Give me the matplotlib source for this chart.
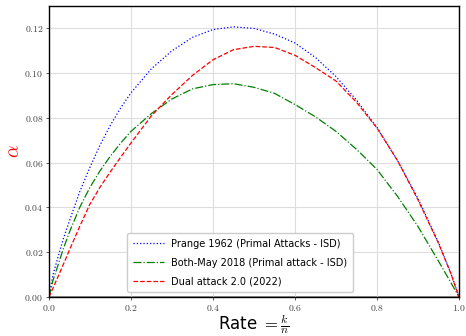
import matplotlib
matplotlib.use("Agg")
import matplotlib.pyplot as plt
from matplotlib.ticker import FuncFormatter

plt.rcParams['mathtext.fontset'] = 'cm'

rate = [0, 0.01, 0.02, 0.035, 0.05, 0.075, 0.1, 0.125, 0.15, 0.175, 0.2, 0.25,
        0.3, 0.35, 0.4, 0.45, 0.5, 0.55, 0.6, 0.65, 0.7, 0.75, 0.8, 0.85,
        0.9, 0.95, 0.98, 1.0]
prange = [0, 0.010, 0.0165, 0.026, 0.034, 0.0470, 0.0580, 0.0680, 0.0768,
          0.0845, 0.0912, 0.1020, 0.1100, 0.1160, 0.1195, 0.1207, 0.1200,
          0.1175, 0.1135, 0.1070, 0.0985, 0.0880, 0.0757, 0.0610, 0.0440,
          0.0243, 0.0108, 0]
bothmay = [0, 0.0075, 0.0130, 0.0215, 0.0290, 0.0400, 0.0490, 0.0565,
           0.0630, 0.0688, 0.0740, 0.0820, 0.0885, 0.0930, 0.0949, 0.0953,
           0.0937, 0.0910, 0.0860, 0.0805, 0.0740, 0.0660, 0.0570, 0.0450,
           0.0315, 0.0160, 0.0065, 0]
dual = [0, 0.004, 0.0082, 0.0145, 0.0210, 0.0315, 0.0415, 0.0492, 0.0560,
        0.0625, 0.0688, 0.0810, 0.0905, 0.0990, 0.1060, 0.1105, 0.1120,
        0.1115, 0.1080, 0.1025, 0.0965, 0.0870, 0.0755, 0.0610, 0.0434,
        0.0240, 0.0105, 0]

labels = ["Prange 1962 (Primal Attacks - ISD)",
          "Both-May 2018 (Primal attack - ISD)",
          "Dual attack 2.0 (2022)"]

fig = plt.figure(figsize=(4.66, 3.36), dpi=100)
ax = fig.add_axes([0.105, 0.116, 0.88, 0.866])

ax.plot(rate, prange, ':', color='blue', lw=0.9, label=labels[0])
ax.plot(rate, bothmay, '-.', color='green', lw=0.9, label=labels[1])
ax.plot(rate, dual, '--', color='red', lw=0.9, label=labels[2])

ax.set_xlim(0, 1)
ax.set_ylim(0, 0.13)
ax.set_xticks([0, 0.2, 0.4, 0.6, 0.8, 1.0])
ax.set_yticks([0, 0.02, 0.04, 0.06, 0.08, 0.10, 0.12])
ax.xaxis.set_major_formatter(FuncFormatter(lambda v, p: f'${v:.1f}$'))
ax.yaxis.set_major_formatter(FuncFormatter(lambda v, p: f'${v:.2f}$'))
ax.tick_params(labelsize=7, length=2, width=0.6, pad=2, colors='#444444')
ax.grid(color='#dddddd', lw=0.8)
ax.axhline(0, color='#777777', lw=1.8, zorder=1)
for s in ax.spines.values():
    s.set_color('black')
    s.set_linewidth(1.0)

ax.set_xlabel(r'Rate $= \frac{k}{n}$', fontsize=12, labelpad=-0.5)
ax.set_ylabel(r'$\alpha$', color='red', fontsize=14, labelpad=1)

ax.legend(loc='lower center', bbox_to_anchor=(0.466, 0.0), fontsize=7,
          handlelength=3.2, labelspacing=0.9, borderpad=0.6,
          edgecolor='#cccccc', framealpha=1)

fig.savefig("out.png", dpi=100)
